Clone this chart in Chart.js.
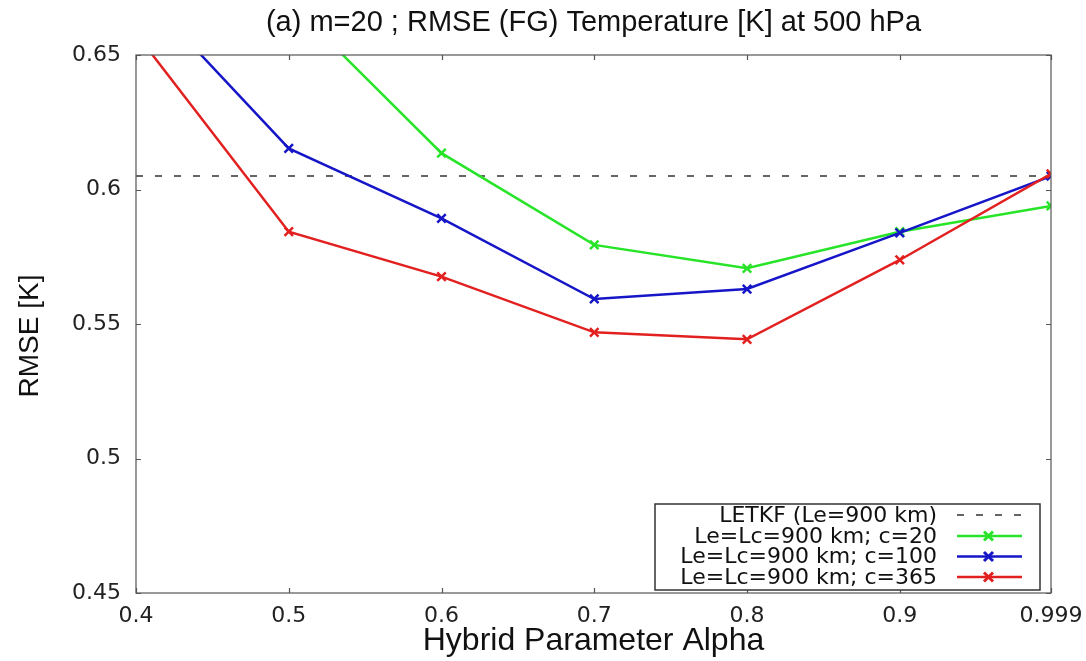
<!DOCTYPE html>
<html>
<head>
<meta charset="utf-8">
<script src="https://cdn.jsdelivr.net/npm/chart.js@4/dist/chart.umd.min.js"></script>
<style>
  html, body { margin: 0; padding: 0; background: #fff; }
  #wrap { width: 1086px; height: 661px; }
</style>
</head>
<body>
<div id="wrap"><canvas id="rmseCanvas"></canvas></div>
<script>
'use strict'

// values
const alphas = [0.4, 0.5, 0.6, 0.7, 0.8, 0.9, 0.999];
const letkf = [0.605, 0.605, 0.605, 0.605, 0.605, 0.605, 0.605];
const rmseC20 = [null, 0.670, 0.6135, 0.5794, 0.5707, 0.5843, 0.5939];
const rmseC100 = [0.6758, 0.6153, 0.5893, 0.5593, 0.5630, 0.5839, 0.6050];
const rmseC365 = [0.658, 0.5843, 0.5676, 0.5469, 0.5443, 0.5738, 0.6058];
const xTicks = [0.4, 0.5, 0.6, 0.7, 0.8, 0.9, 0.999];
const yTicks = [0.45, 0.5, 0.55, 0.6, 0.65];

const titleText = '(a) m=20 ; RMSE (FG) Temperature [K] at 500 hPa';
const yTitleText = 'RMSE [K]';

const toPoints = (vals) => alphas.map((a, i) => ({x: a, y: vals[i]}));

// gnuplot style frame with inward ticks on all four sides, plus titles
const framePlugin = {
  id: 'frame',
  afterDatasetsDraw(chart) {
    const {ctx, chartArea: a, scales} = chart;
    ctx.save();
    ctx.strokeStyle = '#555';
    ctx.lineWidth = 1.2;
    ctx.beginPath();
    for (let t of scales.x.ticks) {
      let px = Math.round(scales.x.getPixelForValue(t.value)) + 0.5;
      ctx.moveTo(px, a.bottom); ctx.lineTo(px, a.bottom - 5);
      ctx.moveTo(px, a.top); ctx.lineTo(px, a.top + 5);
    }
    for (let t of scales.y.ticks) {
      let py = Math.round(scales.y.getPixelForValue(t.value)) + 0.5;
      ctx.moveTo(a.left, py); ctx.lineTo(a.left + 5, py);
      ctx.moveTo(a.right, py); ctx.lineTo(a.right - 5, py);
    }
    ctx.stroke();
    ctx.strokeRect(a.left, a.top, a.right - a.left, a.bottom - a.top);

    // main title centred over the plot
    ctx.fillStyle = '#111';
    ctx.textAlign = 'center';
    ctx.textBaseline = 'middle';
    ctx.font = '29px "Liberation Sans", Arial, sans-serif';
    ctx.fillText(titleText, (a.left + a.right) / 2, 23);

    // y axis title, a little below the middle like the original
    ctx.font = '28px "Liberation Sans", Arial, sans-serif';
    ctx.translate(30, 336);
    ctx.rotate(-Math.PI / 2);
    ctx.fillText(yTitleText, 0, 0);
    ctx.restore();
  }
};

// legend box inside the plot, text right aligned, sample on the right
const boxLegend = {
  id: 'boxLegend',
  afterDraw(chart) {
    const {ctx} = chart;
    const left = 655, right = 1040, top = 504, bottom = 590;
    const rows = [515, 536, 556.5, 577];
    ctx.save();
    ctx.fillStyle = '#fff';
    ctx.fillRect(left, top, right - left, bottom - top);
    ctx.strokeStyle = '#333';
    ctx.lineWidth = 1.5;
    ctx.strokeRect(left, top, right - left, bottom - top);
    ctx.font = '22px "DejaVu Sans"';
    ctx.textAlign = 'right';
    ctx.textBaseline = 'middle';
    chart.data.datasets.forEach((ds, i) => {
      let y = rows[i];
      ctx.fillStyle = '#111';
      ctx.fillText(ds.label, 937, y + 1);
      ctx.strokeStyle = ds.borderColor;
      ctx.lineWidth = ds.borderWidth;
      ctx.setLineDash(ds.borderDash || []);
      ctx.beginPath();
      ctx.moveTo(957, y); ctx.lineTo(1022, y);
      ctx.stroke();
      ctx.setLineDash([]);
      if (ds.pointRadius > 0) {
        ctx.lineWidth = 3;
        ctx.beginPath();
        ctx.moveTo(984, y - 4.5); ctx.lineTo(993, y + 4.5);
        ctx.moveTo(984, y + 4.5); ctx.lineTo(993, y - 4.5);
        ctx.stroke();
      }
    });
    ctx.restore();
  }
};

const series = (label, vals, color, order) => ({
  label: label,
  data: toPoints(vals),
  borderColor: color,
  backgroundColor: color,
  borderWidth: 2.5,
  pointStyle: 'crossRot',
  pointRadius: 6,
  pointBorderWidth: 2.5,
  order: order,
  spanGaps: false
});

new Chart(document.getElementById('rmseCanvas'), {
  type: 'line',
  data: {
    datasets: [
      {
        label: 'LETKF (Le=900 km)',
        data: toPoints(letkf),
        borderColor: '#333',
        borderWidth: 1.5,
        borderDash: [7, 12],
        pointRadius: 0,
        order: 4
      },
      series('Le=Lc=900 km; c=20', rmseC20, 'rgb(40,228,40)', 3),
      series('Le=Lc=900 km; c=100', rmseC100, 'rgb(22,22,200)', 2),
      series('Le=Lc=900 km; c=365', rmseC365, 'rgb(226,32,32)', 1)
    ]
  },
  options: {
    responsive: true,
    maintainAspectRatio: false,
    animation: false,
    layout: { padding: { top: 55, right: 35, bottom: 0, left: 0 } },
    plugins: {
      legend: { display: false },
      tooltip: { enabled: false },
      title: { display: false }
    },
    scales: {
      x: {
        type: 'linear',
        min: 0.4,
        max: 0.999,
        afterBuildTicks: (scale) => { scale.ticks = xTicks.map(v => ({value: v})); },
        afterFit: (scale) => { scale.height = 68; scale.paddingLeft = 0; scale.paddingRight = 0; },
        grid: { display: false, drawTicks: false },
        border: { display: false },
        ticks: {
          color: '#222',
          padding: 10,
          maxRotation: 0,
          autoSkip: false,
          font: { family: '"DejaVu Sans"', size: 22 },
          callback: (v) => String(v)
        },
        title: {
          display: true,
          text: 'Hybrid Parameter Alpha',
          color: '#111',
          font: { family: '"Liberation Sans", Arial, sans-serif', size: 32 },
          padding: { top: 0, bottom: 1 }
        }
      },
      y: {
        min: 0.45,
        max: 0.65,
        afterBuildTicks: (scale) => { scale.ticks = yTicks.map(v => ({value: v})); },
        afterFit: (scale) => { scale.width = 136; scale.paddingTop = 0; scale.paddingBottom = 0; },
        grid: { display: false, drawTicks: false },
        border: { display: false },
        ticks: {
          color: '#222',
          padding: 15,
          autoSkip: false,
          font: { family: '"DejaVu Sans"', size: 22 },
          callback: (v) => String(v)
        }
      }
    }
  },
  plugins: [framePlugin, boxLegend]
});
</script>
</body>
</html>
